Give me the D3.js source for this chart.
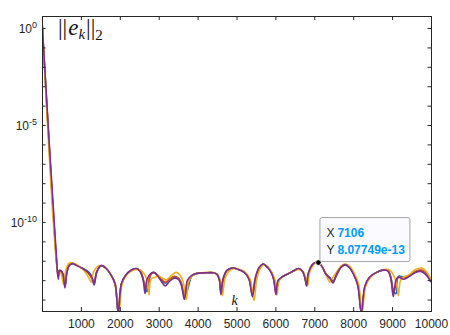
<!DOCTYPE html>
<html>
<head>
<meta charset="utf-8">
<script src="https://cdn.jsdelivr.net/npm/d3@7"></script>
<style>
body { margin: 0; background: #fff; }
svg { display: block; font-family: "Liberation Sans", Arial, sans-serif; }
</style>
</head>
<body>
<svg id="chart" width="450" height="335"></svg>
<script>
// iteration index k, shared by blue / orange / purple
var kMain = [0, 390, 420, 450, 500, 540, 590, 640, 700, 770, 900, 1050, 1180, 1280, 1340, 1400, 1480, 1540, 1650, 1780,
    1880, 1960, 2040, 2150, 2280, 2420, 2520, 2600, 2650, 2700, 2800, 2880, 2980, 3100, 3170, 3280, 3400, 3500, 3580, 3660,
    3740, 3850, 3980, 4200, 4400, 4500, 4560, 4600, 4650, 4750, 4900, 5050, 5200, 5320, 5410, 5480, 5580, 5690, 5800, 5900,
    5960, 6015, 6070, 6200, 6400, 6600, 6700, 6760, 6800, 6850, 6950, 7050, 7106, 7200, 7300, 7420, 7480, 7560, 7680, 7790,
    7900, 8020, 8120, 8210, 8300, 8420, 8600, 8800, 8900, 8970, 9030, 9100, 9160, 9300, 9450, 9600, 9760, 9880, 10000];

// log10 of ||e_k||_2
var purpleLog = [0.35, -12.4, -12.95, -12.5, -12.55, -12.7, -13.4, -12.6, -12.25, -12.15, -12.25, -12.4, -12.6, -12.85, -13.25, -12.6, -12.3, -12.25, -12.4, -12.75,
    -13.2, -14.7, -13.2, -12.75, -12.5, -12.4, -12.55, -13.0, -13.7, -12.95, -12.65, -12.6, -12.8, -13.15, -13.3, -13.05, -12.9, -12.95, -13.25, -14.0,
    -13.0, -12.75, -12.65, -12.62, -12.62, -12.7, -13.0, -13.75, -12.95, -12.5, -12.37, -12.45, -12.6, -12.95, -13.85, -12.9, -12.35, -12.17, -12.35, -12.65,
    -13.0, -13.75, -13.0, -12.8, -12.6, -12.4, -12.55, -12.9, -13.3, -12.6, -12.2, -12.08, -12.093, -12.3, -12.7, -12.95, -13.15, -12.75, -12.35, -12.2,
    -12.35, -12.75, -13.3, -14.7, -13.3, -12.85, -12.6, -12.47, -12.55, -12.95, -13.85, -13.0, -12.85, -12.95, -12.8, -12.6, -12.56, -12.75, -13.1];

var blueLog = [0.35, -12.4, -12.8, -12.5, -12.55, -12.7, -13.3, -12.6, -12.25, -12.15, -12.25, -12.4, -12.55, -12.8, -13.2, -12.65, -12.32, -12.25, -12.4, -12.75,
    -13.2, -14.7, -13.2, -12.75, -12.5, -12.4, -12.5, -12.95, -13.3, -13.6, -12.7, -12.6, -12.78, -13.05, -13.15, -12.95, -12.85, -12.9, -13.15, -13.8,
    -13.5, -12.8, -12.65, -12.62, -12.62, -12.7, -12.95, -13.6, -13.1, -12.5, -12.37, -12.45, -12.6, -12.9, -13.7, -13.1, -12.4, -12.17, -12.33, -12.6,
    -12.95, -13.6, -13.1, -12.8, -12.6, -12.4, -12.55, -12.85, -13.2, -12.7, -12.2, -12.08, -12.1, -12.3, -12.7, -12.9, -13.05, -12.8, -12.35, -12.2,
    -12.35, -12.7, -13.2, -14.7, -13.4, -12.85, -12.6, -12.47, -12.52, -12.85, -13.5, -13.7, -12.8, -12.85, -12.75, -12.55, -12.5, -12.65, -13.0];

var orangeLog = [0.35, -12.4, -12.85, -12.52, -12.6, -12.75, -13.3, -12.55, -12.22, -12.13, -12.24, -12.42, -12.62, -12.9, -13.15, -12.6, -12.3, -12.25, -12.4, -12.75,
    -13.2, -14.7, -13.2, -12.77, -12.52, -12.42, -12.52, -12.9, -13.4, -13.3, -12.7, -12.62, -12.75, -13.0, -13.1, -12.95, -12.8, -12.88, -13.15, -13.85,
    -13.3, -12.77, -12.65, -12.62, -12.62, -12.7, -12.98, -13.6, -13.0, -12.52, -12.38, -12.45, -12.58, -12.92, -13.8, -13.0, -12.38, -12.18, -12.33, -12.62,
    -12.98, -13.7, -13.05, -12.8, -12.6, -12.42, -12.55, -12.88, -13.25, -12.65, -12.2, -12.07, -12.1, -12.3, -12.65, -12.95, -13.1, -12.8, -12.35, -12.2,
    -12.33, -12.72, -13.25, -14.7, -13.35, -12.85, -12.6, -12.46, -12.52, -12.9, -13.6, -13.3, -12.85, -12.88, -12.75, -12.55, -12.48, -12.62, -13.0];

// yellow series has its dips slightly later
var kYellow = [0, 390, 420, 450, 500, 550, 600, 650, 700, 770, 900, 1050, 1150, 1220, 1265, 1320, 1420, 1520, 1650, 1780,
    1880, 1975, 2060, 2150, 2280, 2420, 2550, 2650, 2710, 2750, 2800, 2900, 3000, 3100, 3200, 3300, 3450, 3550, 3630, 3710,
    3780, 3880, 3980, 4200, 4400, 4520, 4590, 4640, 4700, 4800, 4920, 5050, 5200, 5350, 5450, 5520, 5600, 5700, 5800, 5920,
    5990, 6040, 6100, 6200, 6400, 6600, 6700, 6780, 6830, 6880, 6980, 7060, 7150, 7250, 7320, 7400, 7480, 7600, 7700, 7800,
    7920, 8040, 8140, 8230, 8320, 8450, 8600, 8800, 8950, 9060, 9120, 9160, 9220, 9300, 9450, 9600, 9760, 9880, 10000];

var yellowLog = [0.35, -12.4, -12.6, -12.55, -12.7, -13.2, -12.6, -12.25, -12.12, -12.1, -12.2, -12.45, -12.7, -12.95, -13.1, -12.6, -12.3, -12.25, -12.4, -12.75,
    -13.2, -14.7, -13.2, -12.8, -12.55, -12.45, -12.5, -12.75, -13.1, -13.75, -12.95, -12.85, -12.8, -12.9, -12.98, -12.8, -12.6, -12.75, -13.1, -14.0,
    -13.0, -12.75, -12.65, -12.6, -12.6, -12.72, -13.1, -13.8, -12.95, -12.55, -12.4, -12.42, -12.55, -12.95, -14.05, -12.95, -12.45, -12.2, -12.3, -12.65,
    -13.0, -13.75, -13.0, -12.8, -12.6, -12.45, -12.55, -12.85, -13.3, -12.6, -12.2, -12.05, -12.15, -12.5, -12.8, -13.1, -12.85, -12.5, -12.25, -12.17,
    -12.3, -12.7, -13.2, -14.7, -13.3, -12.85, -12.6, -12.45, -12.5, -12.85, -13.2, -13.8, -13.0, -12.85, -12.7, -12.45, -12.38, -12.55, -12.95];

var xTicks = [1000, 2000, 3000, 4000, 5000, 6000, 7000, 8000, 9000, 10000];
var yDecades = d3.range(-14, 1);          // minor ticks every decade
var yLabels = [0, -5, -10];               // labelled exponents

var tipK = 7106, tipValue = 8.07749e-13;

// plot box (window.top is read-only, so no "top" here)
var boxL = 42, boxR = 431, boxT = 16, boxB = 311;

var svg = d3.select("#chart");

var x = d3.scaleLinear().domain([0, 10000]).range([boxL, boxR]);
var y = d3.scaleLog()
    .domain([Math.pow(10, -14.59), Math.pow(10, 0.62)])
    .range([boxB, boxT]);

svg.append("defs").append("clipPath")
    .attr("id", "plotClip")
    .append("rect")
    .attr("x", boxL).attr("y", boxT)
    .attr("width", boxR - boxL).attr("height", boxB - boxT);

var series = [
    {color: "#0072BD", k: kMain, v: blueLog},
    {color: "#D95319", k: kMain, v: orangeLog},
    {color: "#EDB120", k: kYellow, v: yellowLog},
    {color: "#7E2F8E", k: kMain, v: purpleLog}
];

var line = d3.line()
    .x(function(d) { return x(d[0]); })
    .y(function(d) { return y(Math.pow(10, d[1])); })
    .curve(d3.curveCatmullRom.alpha(0.5));

svg.append("g")
    .attr("clip-path", "url(#plotClip)")
    .selectAll("path")
    .data(series)
    .enter()
    .append("path")
    .attr("fill", "none")
    .attr("stroke", function(d) { return d.color; })
    .attr("stroke-width", 1.6)
    .attr("stroke-linejoin", "round")
    .attr("d", function(d) { return line(d.k.map(function(k, i) { return [k, d.v[i]]; })); });

// axes
var axisColor = "#262626";

function styleAxis(g) {
    g.attr("font-family", null);
    g.select(".domain").remove();
    g.selectAll(".tick line").attr("stroke", axisColor).attr("stroke-width", 1);
    g.selectAll(".tick text").attr("fill", axisColor).style("font-size", "12px");
}

svg.append("g")
    .attr("transform", "translate(0," + boxB + ")")
    .call(d3.axisBottom(x).tickValues(xTicks).tickSize(-4).tickPadding(8).tickFormat(d3.format("d")))
    .call(styleAxis);

svg.append("g")
    .attr("transform", "translate(0," + boxT + ")")
    .call(d3.axisTop(x).tickValues(xTicks).tickSize(-4).tickFormat(""))
    .call(styleAxis);

var decadeVals = yDecades.map(function(e) { return Math.pow(10, e); });

svg.append("g")
    .attr("transform", "translate(" + boxL + ",0)")
    .call(d3.axisLeft(y).tickValues(decadeVals).tickSize(-3.5).tickFormat(""))
    .call(styleAxis);

svg.append("g")
    .attr("transform", "translate(" + boxR + ",0)")
    .call(d3.axisRight(y).tickValues(decadeVals).tickSize(-3.5).tickFormat(""))
    .call(styleAxis);

// y labels as 10^n
var ylab = svg.append("g").selectAll("text")
    .data(yLabels)
    .enter()
    .append("text")
    .attr("x", boxL - 5)
    .attr("y", function(e) { return y(Math.pow(10, e)) + 5; })
    .attr("text-anchor", "end")
    .attr("fill", axisColor)
    .style("font-size", "12px");
ylab.append("tspan").text("10");
ylab.append("tspan")
    .attr("dy", "-5")
    .style("font-size", "9px")
    .text(function(e) { return e == 0 ? "0" : "-" + (-e); });

// box
svg.append("rect")
    .attr("x", boxL + 0.5).attr("y", boxT + 0.5)
    .attr("width", boxR - boxL).attr("height", boxB - boxT)
    .attr("fill", "none")
    .attr("stroke", axisColor)
    .attr("stroke-width", 1);

// title ||e_k||_2
var title = svg.append("text")
    .attr("x", 58)
    .attr("y", 35)
    .attr("fill", "#111")
    .style("font-family", "'Liberation Serif', 'DejaVu Serif', serif")
    .style("font-size", "23px");
title.append("tspan").text("||");
title.append("tspan").attr("dx", 1).style("font-style", "italic").text("e");
title.append("tspan").attr("dy", 4).style("font-style", "italic").style("font-size", "15px").text("k");
title.append("tspan").attr("dy", -4).attr("dx", 1).text("||");
title.append("tspan").attr("dy", 5).style("font-size", "15px").text("2");

// x label
svg.append("text")
    .attr("x", x(4950))
    .attr("y", 305)
    .attr("text-anchor", "middle")
    .attr("fill", "#111")
    .style("font-family", "'Liberation Serif', 'DejaVu Serif', serif")
    .style("font-style", "italic")
    .style("font-size", "14px")
    .text("k");

// data tip
var tx = x(tipK), ty = y(tipValue);
var tip = svg.append("g");
tip.append("rect")
    .attr("x", tx + 1.5).attr("y", ty - 45)
    .attr("width", 90).attr("height", 44)
    .attr("rx", 2)
    .attr("fill", "#fbfbff")
    .attr("fill-opacity", 0.95)
    .attr("stroke", "#a6a6a6")
    .attr("stroke-width", 1);
var rows = [["X", String(tipK)], ["Y", "8.07749e-13"]];
rows.forEach(function(r, i) {
    var t = tip.append("text")
        .attr("x", tx + 8)
        .attr("y", ty - 26 + i * 17)
        .style("font-size", "12px");
    t.append("tspan").attr("fill", "#262626").text(r[0]);
    t.append("tspan").attr("x", tx + 19).attr("fill", "#0099ff").style("font-weight", "bold").text(r[1]);
});
tip.append("circle")
    .attr("cx", tx).attr("cy", ty)
    .attr("r", 2.8)
    .attr("fill", "#000")
    .attr("stroke", "#fff")
    .attr("stroke-width", 0.8);
</script>
</body>
</html>
